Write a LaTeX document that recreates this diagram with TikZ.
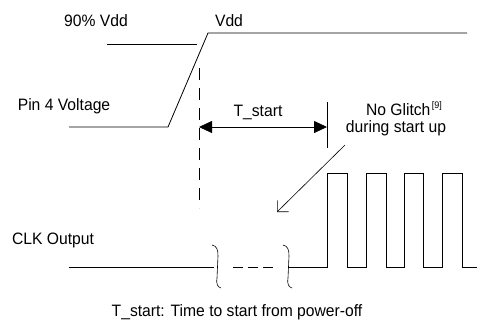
\documentclass[tikz,border=0pt]{standalone}
\usepackage{fontspec}
\setmainfont[FakeStretch=0.95]{Liberation Sans}
\usetikzlibrary{arrows.meta}
\begin{document}
\begin{tikzpicture}[x=1pt,y=-1pt,
  wave/.style={line width=0.8pt,line join=miter},
  lbl/.style={inner sep=0pt,font=\fontsize{16.5}{18}\selectfont},
  dimarrow/.style={line width=0.8pt,{Triangle[length=13pt,width=12pt]}-{Triangle[length=13pt,width=12pt]}},
  ptr/.style={line width=0.6pt,-{Straight Barb[length=8pt,width=16pt,line width=0.6pt]}},
  vdash/.style={line width=0.9pt,dash pattern=on 12pt off 8pt},
  squig/.style={line width=0.6pt}]
\useasboundingbox (0,0) rectangle (477,335);
% labels
\node[lbl] (t90) at (96,21) {90\% Vdd};
\node[lbl] (tvdd) at (229,21) {Vdd};
\node[lbl] (tpin) at (64,106) {Pin 4 Voltage};
\node[lbl] (tclk) at (53,240) {CLK Output};
\node[lbl] (tst) at (258,112) {T\_start};
\node[lbl,anchor=base] (tglitch) at (404,115) {No Glitch\kern1.5pt\raisebox{6.5pt}{\fontsize{9.5}{10}\selectfont[9]}};
\node[lbl] (tdur) at (396,128) {during start up};
\node[lbl] (tcap) at (237,312) {T\_start: Time to start from power-off};
% Pin 4 voltage
\draw[wave] (69,127) -- (168,127) -- (208,33) -- (467,33);
\draw[wave] (107,44) -- (197,44);
% dashed marker
\coordinate (d1) at (199,68);
\coordinate (d2) at (199,208);
\draw[vdash] (d1) -- (d2);
% T_start dimension
\coordinate (a1) at (199,127);
\coordinate (a2) at (327,127);
\draw[dimarrow] (a1) -- (a2);
\draw[wave] (327,102) -- (327,148);
% glitch pointer
\coordinate (g1) at (345,145);
\coordinate (g2) at (277,212);
\draw[ptr] (g1) -- (g2);
% CLK output
\draw[wave] (69,267) -- (214,267);
\draw[squig] (212,245) .. controls (217,246) and (218,250) .. (218,256) -- (217,278) .. controls (216,285) and (218,287) .. (221,288);
\draw[wave,dash pattern=on 10pt off 5pt] (233,267) -- (276,267);
\draw[squig] (283,245) .. controls (288,246) and (289,250) .. (289,256) -- (288,278) .. controls (287,285) and (289,287) .. (292,288);
\draw[wave] (288,267) -- (327,267) -- (327,173) -- (347,173) -- (347,267) -- (366,267) -- (366,173) -- (386,173) -- (386,267) -- (404,267) -- (404,173) -- (423,173) -- (423,267) -- (442,267) -- (442,173) -- (462,173) -- (462,267) -- (477,267);
\end{tikzpicture}
\end{document}
